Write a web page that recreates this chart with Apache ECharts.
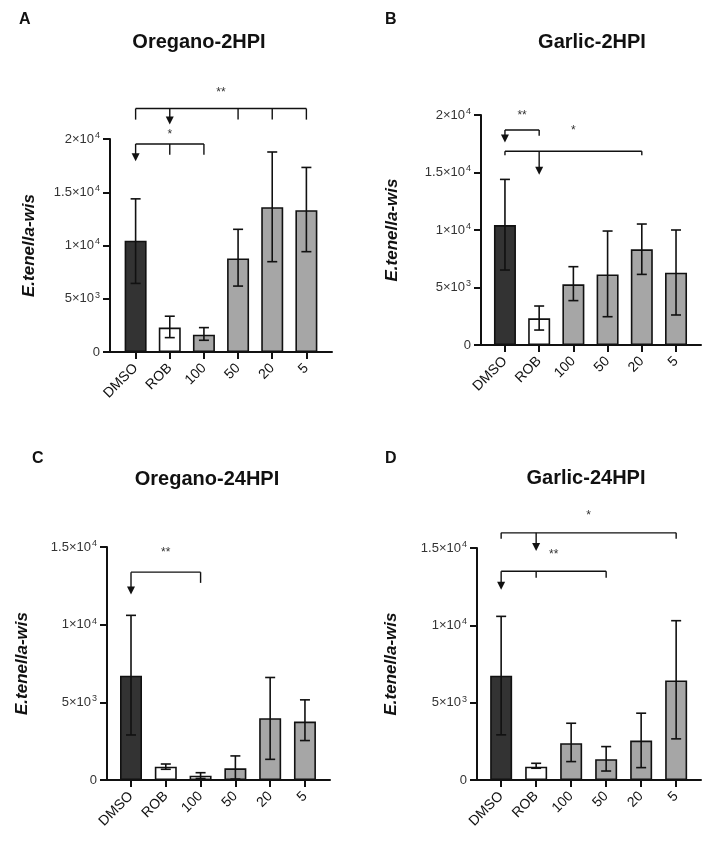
<!DOCTYPE html>
<html>
<head>
<meta charset="utf-8">
<script src="https://cdn.jsdelivr.net/npm/echarts@6/dist/echarts.min.js"></script>
<style>
  html, body { margin: 0; padding: 0; background: #fff; }
  #chart { width: 706px; height: 843px; }
</style>
</head>
<body>
<div id="chart"></div>
<script>
var categories = ['DMSO', 'ROB', '100', '50', '20', '5'];
var panelLetters = ['A', 'B', 'C', 'D'];
var panelTitles = ['Oregano-2HPI', 'Garlic-2HPI', 'Oregano-24HPI', 'Garlic-24HPI'];
var yName = 'E.tenella-wis';
var yTickLabels = {
  0: '0',
  5000: '5×10{s|3}',
  10000: '1×10{s|4}',
  15000: '1.5×10{s|4}',
  20000: '2×10{s|4}'
};

// bar heights and error bar ends
var oregano2Mean = [10450, 2290, 1630, 8790, 13600, 13310];
var oregano2Low = [6440, 1350, 1100, 6190, 8480, 9420];
var oregano2High = [14380, 3360, 2290, 11520, 18780, 17330];

var garlic2Mean = [10430, 2320, 5280, 6140, 8320, 6290];
var garlic2Low = [6520, 1300, 3860, 2460, 6140, 2610];
var garlic2High = [14400, 3390, 6810, 9910, 10520, 10000];

var oregano24Mean = [6710, 860, 280, 750, 3980, 3760];
var oregano24Low = [2900, 690, 100, 60, 1330, 2540];
var oregano24High = [10600, 1030, 470, 1550, 6600, 5160];

var garlic24Mean = [6740, 860, 2380, 1340, 2550, 6440];
var garlic24Low = [2920, 760, 1190, 580, 800, 2660];
var garlic24High = [10580, 1080, 3670, 2160, 4320, 10300];

// significance brackets: line between two groups, ticks down, one arrow
var oregano2Brackets = [
  { from: 0, to: 5, lineY: 22860, tickY: 21820, ticks: [0, 3, 4, 5], arrow: 1, arrowY: 21350, label: '**', labelY: 24330 },
  { from: 0, to: 2, lineY: 19530, tickY: 18520, ticks: [1, 2], arrow: 0, arrowY: 17900, label: '*', labelY: 20400 }
];
var garlic2Brackets = [
  { from: 0, to: 1, lineY: 18700, tickY: 18200, ticks: [1], arrow: 0, arrowY: 17600, label: '**', labelY: 19900 },
  { from: 0, to: 4, lineY: 16850, tickY: 16500, ticks: [0, 4], arrow: 1, arrowY: 14800, label: '*', labelY: 18600 }
];
var oregano24Brackets = [
  { from: 0, to: 2, lineY: 13380, tickY: 12690, ticks: [2], arrow: 0, arrowY: 11940, label: '**', labelY: 14620 }
];
var garlic24Brackets = [
  { from: 0, to: 5, lineY: 15980, tickY: 15600, ticks: [0, 5], arrow: 1, arrowY: 14800, label: '*', labelY: 17060 },
  { from: 0, to: 3, lineY: 13500, tickY: 13070, ticks: [1, 3], arrow: 0, arrowY: 12300, label: '**', labelY: 14580 }
];

var yMax = [20000, 20000, 15000, 15000];

var DARK = '#333333';
var GREY = '#a6a6a6';
var WHITE = '#ffffff';
var barFills = [
  [DARK, WHITE, GREY, GREY, GREY, GREY],
  [DARK, WHITE, GREY, GREY, GREY, GREY],
  [DARK, WHITE, WHITE, GREY, GREY, GREY],
  [DARK, WHITE, GREY, GREY, GREY, GREY]
];

var panels = [
  { mean: oregano2Mean, low: oregano2Low, high: oregano2High, brackets: oregano2Brackets },
  { mean: garlic2Mean, low: garlic2Low, high: garlic2High, brackets: garlic2Brackets },
  { mean: oregano24Mean, low: oregano24Low, high: oregano24High, brackets: oregano24Brackets },
  { mean: garlic24Mean, low: garlic24Low, high: garlic24High, brackets: garlic24Brackets }
];

// layout of the four panels
var grids = [
  { left: 110, top: 139, width: 222, height: 213 },
  { left: 481, top: 115, width: 220, height: 230 },
  { left: 107, top: 547, width: 223, height: 233 },
  { left: 477, top: 548, width: 224, height: 232 }
];
var xRange = [[-0.75, 5.75], [-0.70, 5.73], [-0.69, 5.72], [-0.69, 5.71]];
var titlePos = [[199, 32], [592, 32], [207, 469], [586, 468]];
var letterPos = [[19, 12], [385, 12], [32, 451], [385, 451]];
var nameGaps = [72, 80, 76, 77];

var FONT = 'Liberation Sans, Arial, sans-serif';
var INK = '#111111';

function errorBarItem(params, api) {
  var x = api.value(0);
  var lo = api.coord([x, api.value(1)]);
  var hi = api.coord([x, api.value(2)]);
  var cap = 5;
  var style = { stroke: INK, lineWidth: 1.6 };
  return {
    type: 'group',
    children: [
      { type: 'line', shape: { x1: lo[0], y1: lo[1], x2: hi[0], y2: hi[1] }, style: style },
      { type: 'line', shape: { x1: hi[0] - cap, y1: hi[1], x2: hi[0] + cap, y2: hi[1] }, style: style },
      { type: 'line', shape: { x1: lo[0] - cap, y1: lo[1], x2: lo[0] + cap, y2: lo[1] }, style: style }
    ]
  };
}

function bracketRenderer(brackets) {
  return function (params, api) {
    var b = brackets[params.dataIndex];
    var style = { stroke: INK, lineWidth: 1.4 };
    var p1 = api.coord([b.from, b.lineY]);
    var p2 = api.coord([b.to, b.lineY]);
    var children = [
      { type: 'line', shape: { x1: p1[0], y1: p1[1], x2: p2[0], y2: p2[1] }, style: style }
    ];
    b.ticks.forEach(function (t) {
      var a = api.coord([t, b.lineY]);
      var c = api.coord([t, b.tickY]);
      children.push({ type: 'line', shape: { x1: a[0], y1: a[1], x2: c[0], y2: c[1] }, style: style });
    });
    var aTop = api.coord([b.arrow, b.lineY]);
    var aTip = api.coord([b.arrow, b.arrowY]);
    children.push({ type: 'line', shape: { x1: aTop[0], y1: aTop[1], x2: aTip[0], y2: aTip[1] - 4 }, style: style });
    children.push({
      type: 'polygon',
      shape: { points: [[aTip[0] - 4, aTip[1] - 8], [aTip[0] + 4, aTip[1] - 8], [aTip[0], aTip[1]]] },
      style: { fill: INK }
    });
    var lp = api.coord([(b.from + b.to) / 2, b.labelY]);
    children.push({
      type: 'text',
      x: lp[0], y: lp[1],
      style: { text: b.label, fill: '#333', font: '12px ' + FONT, align: 'center', verticalAlign: 'middle' }
    });
    return { type: 'group', children: children };
  };
}

var tickValues = categories.map(function (c, i) { return i; });

var option = {
  animation: false,
  backgroundColor: '#fff',
  title: [],
  grid: [],
  xAxis: [],
  yAxis: [],
  series: []
};

panels.forEach(function (p, k) {
  option.title.push({
    text: panelTitles[k], left: titlePos[k][0], top: titlePos[k][1], textAlign: 'center', padding: 0,
    textStyle: { fontFamily: FONT, fontSize: 20, fontWeight: 'bold', color: INK }
  });
  option.title.push({
    text: panelLetters[k], left: letterPos[k][0], top: letterPos[k][1], padding: 0,
    textStyle: { fontFamily: FONT, fontSize: 16, fontWeight: 'bold', color: INK }
  });
  option.grid.push(grids[k]);
  option.xAxis.push({
    type: 'value', gridIndex: k, min: xRange[k][0], max: xRange[k][1],
    splitLine: { show: false },
    axisLine: { show: true, onZero: false, lineStyle: { color: INK, width: 2 } },
    axisTick: { show: true, customValues: tickValues, length: 7, lineStyle: { color: INK, width: 2 } },
    axisLabel: {
      customValues: tickValues, rotate: 45, margin: 14, color: INK, fontFamily: FONT, fontSize: 14,
      formatter: function (v) { return categories[Math.round(v)]; }
    }
  });
  option.yAxis.push({
    type: 'value', gridIndex: k, min: 0, max: yMax[k], interval: 5000,
    name: yName, nameLocation: 'middle', nameRotate: 90, nameGap: nameGaps[k],
    nameTextStyle: { fontFamily: FONT, fontSize: 17, fontWeight: 'bold', fontStyle: 'italic', color: INK },
    splitLine: { show: false },
    axisLine: { show: true, onZero: false, lineStyle: { color: INK, width: 2 } },
    axisTick: { show: true, length: 7, lineStyle: { color: INK, width: 2 } },
    axisLabel: {
      margin: 10, color: '#333', fontFamily: FONT, fontSize: 13,
      formatter: function (v) { return yTickLabels[v]; },
      rich: { s: { fontSize: 9, fontFamily: FONT, color: '#333', verticalAlign: 'top', padding: [0, 0, 7, 1] } }
    }
  });
  option.series.push({
    type: 'bar', xAxisIndex: k, yAxisIndex: k, barWidth: 22,
    data: p.mean.map(function (v, i) { return [i, v]; }),
    itemStyle: {
      color: function (params) { return barFills[k][params.dataIndex]; },
      borderColor: INK, borderWidth: 1.6
    }
  });
  option.series.push({
    type: 'custom', xAxisIndex: k, yAxisIndex: k, z: 5,
    data: p.mean.map(function (v, i) { return [i, p.low[i], p.high[i]]; }),
    renderItem: errorBarItem
  });
  option.series.push({
    type: 'custom', xAxisIndex: k, yAxisIndex: k, z: 5, clip: false,
    data: p.brackets.map(function (b) { return [b.from, b.lineY]; }),
    renderItem: bracketRenderer(p.brackets)
  });
});

var chart = echarts.init(document.getElementById('chart'));
chart.setOption(option);
</script>
</body>
</html>
